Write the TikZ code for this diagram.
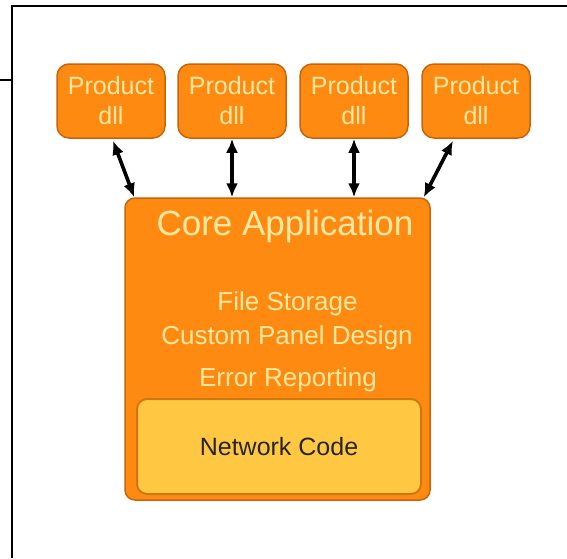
\documentclass[tikz,border=0pt]{standalone}
\usepackage{fontspec}
\setmainfont{Liberation Sans}
\usetikzlibrary{arrows.meta,calc}
\definecolor{org}{RGB}{255,138,18}
\definecolor{orgline}{RGB}{200,100,10}
\definecolor{cream}{RGB}{255,232,160}
\definecolor{yel}{RGB}{255,199,66}
\definecolor{yelline}{RGB}{205,120,20}
\begin{document}
\begin{tikzpicture}[x=1pt,y=-1pt,
dll/.style={draw=orgline,line width=1.5pt,fill=org,rounded corners=12pt,minimum width=108pt,minimum height=74pt,inner sep=0pt,align=center,text=cream,font=\fontsize{25}{30}\selectfont},
lbl/.style={anchor=base,inner sep=0pt,text=cream,font=\fontsize{26}{30}\selectfont},
link/.style={line width=3.6pt,{Latex[length=14pt,width=12pt]}-{Latex[length=14pt,width=12pt]}}]
\useasboundingbox(0,0)rectangle(567,558);
\draw[line width=1.6pt](0,80)--(12,80);\draw[line width=1.6pt](12,558)--(12,6)--(567,6);
\node[draw=orgline,line width=1.5pt,fill=org,rounded corners=10pt,minimum width=305pt,minimum height=302pt](core)at(277.5,349){};
\foreach\x[count=\i]in{111,232,354,476}{\node[dll](p\i)at(\x,101){Product\\dll};}
\draw[link]($(p1.south)+(2,2)$)--($(core.north west)+(10,0)$);
\draw[link](p2.south)--(p2.south|-core.north);\draw[link](p3.south)--(p3.south|-core.north);
\draw[link]($(p4.south)+(-23,2)$)--($(core.north east)+(-7,0)$);
\node[lbl,font=\fontsize{35}{40}\selectfont](title)at(285,235){Core Application};
\node[lbl](fs)at(287.5,310){File Storage};\node[lbl](cp)at(287,344){Custom Panel Design};\node[lbl](er)at(288,386){Error Reporting};
\node[draw=yelline,line width=2pt,fill=yel,rounded corners=10pt,minimum width=284pt,minimum height=95pt,text=black!85,font=\fontsize{25}{30}\selectfont](net)at(279,446.5){Network Code};
\end{tikzpicture}
\end{document}
